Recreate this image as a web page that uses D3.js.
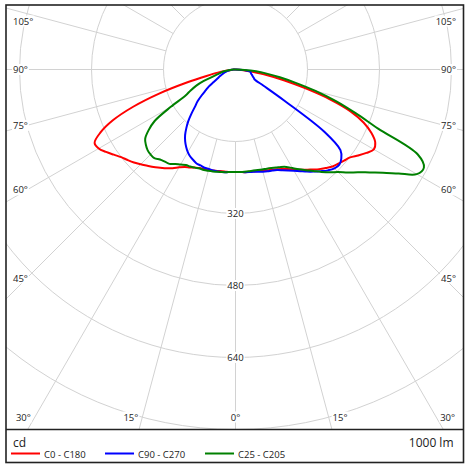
<!DOCTYPE html>
<html><head><meta charset="utf-8">
<script src="https://cdn.jsdelivr.net/npm/d3@7"></script>
<style>html,body{margin:0;padding:0;background:#fff}svg{display:block}text{font-family:"Open Sans",sans-serif;fill:#222}</style>
</head><body><svg id="c" width="465" height="465"></svg>
<script>
// gamma angles (deg from nadir)
const gamma = [0,2.5,5,7.5,10,12.5,15,17.5,20,22.5,25,27.5,30,32.5,35,37.5,40,42.5,45,47.5,50,52.5,55,57.5,60,62.5,65,67.5,70,72.5,75,77.5,80,82.5,85,87.5,90];
// intensities in cd (1000 lm)
const c180 = [228,228,228,228,229,230,231,232,233,236,240,244,251,260,268,275,283,290,298,306,313,320,330,341,351,353,331,295,242,178,112,66,40,18,10,4,0];
const c0   = [228,228,229,229,230,231,233,235,237,240,244,249,256,264,272,280,289,297,305,310,315,321,333,345,355,350,333,308,272,220,160,110,70,32,18,8,0];
const c270 = [228,228,229,230,230,230,229,229,227,226,222,218,212,204,195,184,170,155,138,122,110,95,81,70,56,47,41,36,32,28,25,21,17,13,9,4,0];
const c90  = [228,228,229,230,231,233,235,237,239,242,247,253,260,268,277,286,295,304,311,313,307,294,241,129,72,48,45,42,40,38,36,35,34,32,22,10,0];
const c205 = [228,228,229,230,231,232,233,234,234,236,238,239,244,249,256,258,261,267,267,265,260,253,236,213,166,125,110,95,76,54,42,34,29,20,12,5,0];
const c25  = [228,228,228,228,228,229,230,231,233,236,239,244,253,263,273,284,297,310,322,339,355,376,400,430,465,472,447,343,284,234,184,137,100,70,46,20,0];

const ringValues = [160,320,480,640,800,960,1120];
const ringLabels = [320,480,640];
const spokeAngles = [0,15,30,45,60,75,90,105,120,135,150,165,180];
const sideAngleLabels = [45,60,75,90,105];
const bottomAngleLabels = [0,15,30];
const seriesNames = ["C0 - C180","C90 - C270","C25 - C205"];
const seriesColors = ["#ff0000","#0000ff","#008000"];
const unitLabel = "cd";
const fluxLabel = "1000 lm";

const series = [
  {name:seriesNames[0], color:seriesColors[0], left:c180, right:c0},
  {name:seriesNames[1], color:seriesColors[1], left:c270, right:c90},
  {name:seriesNames[2], color:seriesColors[2], left:c205, right:c25}
];

const W=465,H=465;
const cx=235.5, cy=69.5;
const plot={x0:6,y0:5,x1:464,y1:429};
const r = d3.scaleLinear().domain([0,800]).range([0,360]);
const rad = d=>d*Math.PI/180;

const svg=d3.select("#c");
svg.append("rect").attr("width",W).attr("height",H).attr("fill","#fff");
svg.append("defs").append("clipPath").attr("id","clip").append("rect")
  .attr("x",plot.x0).attr("y",plot.y0).attr("width",plot.x1-plot.x0).attr("height",plot.y1-plot.y0);
const g=svg.append("g").attr("clip-path","url(#clip)");
const grid=g.append("g").attr("transform",`translate(${cx},${cy})`);
grid.selectAll("circle").data(ringValues).join("circle")
  .attr("r",d=>r(d)).attr("fill","none").attr("stroke","#d2d2d2").attr("stroke-width",1);
const spokes=[];
spokeAngles.forEach(a=>{spokes.push({a,s:1}); if(a>0&&a<180) spokes.push({a,s:-1});});
grid.selectAll("line").data(spokes).join("line")
  .attr("x1",d=>d.s*r(160)*Math.sin(rad(d.a))).attr("y1",d=>r(160)*Math.cos(rad(d.a)))
  .attr("x2",d=>d.s*r(1200)*Math.sin(rad(d.a))).attr("y2",d=>r(1200)*Math.cos(rad(d.a)))
  .attr("stroke","#d2d2d2").attr("stroke-width",1);

function label(parent,x,y,text,anchor,size){
  const gg=parent.append("g");
  const t=gg.append("text").attr("x",x).attr("y",y).attr("text-anchor",anchor)
    .attr("dominant-baseline","central").style("font-size",size+"px").text(text);
  const b=t.node().getBBox();
  gg.insert("rect","text").attr("x",b.x-1).attr("y",b.y+1).attr("width",b.width+2).attr("height",b.height-2).attr("fill","#fff");
}
const labels=svg.append("g");
ringLabels.forEach(v=>label(labels,cx,cy+r(v),String(v),"middle",9.5));
const xInL=27, xInR=444, yTop=21, yB=417;
sideAngleLabels.forEach(a=>{
  const y=Math.max(yTop, cy+(cx-xInL)/Math.tan(rad(a)));
  label(labels,13,y,a+"°","start",9.5);
  label(labels,456,y,a+"°","end",9.5);
});
bottomAngleLabels.forEach(a=>{
  const dx=(yB-cy)*Math.tan(rad(a));
  if(a===0){label(labels,cx,yB,a+"°","middle",9.5);}
  else{
    label(labels,cx-dx-4,yB,a+"°","end",9.5);
    label(labels,cx+dx+4,yB,a+"°","start",9.5);
  }
});

const line=d3.lineRadial().angle(d=>d[0]).radius(d=>r(d[1])).curve(d3.curveCatmullRom.alpha(0.5));
const curves=g.append("g").attr("transform",`translate(${cx},${cy})`);
series.forEach(s=>{
  const pts=[];
  for(let i=gamma.length-1;i>=0;i--) pts.push([Math.PI+rad(gamma[i]), s.left[i]]);
  for(let i=1;i<gamma.length;i++) pts.push([Math.PI-rad(gamma[i]), s.right[i]]);
  curves.append("path").attr("d",line(pts)).attr("fill","none").attr("stroke",s.color)
    .attr("stroke-width",2).attr("stroke-linejoin","round");
});

// frame
svg.append("rect").attr("x",6).attr("y",5).attr("width",457.5).attr("height",457.5)
  .attr("fill","none").attr("stroke","#222").attr("stroke-width",1.6);
svg.append("line").attr("x1",6).attr("x2",463.5).attr("y1",429.5).attr("y2",429.5)
  .attr("stroke","#222").attr("stroke-width",1.6);

svg.append("text").attr("x",13).attr("y",447).style("font-size","12px").text(unitLabel);
svg.append("text").attr("x",453.5).attr("y",447).attr("text-anchor","end").style("font-size","12px").text(fluxLabel);
const lg=svg.append("g");
const legX=[11,105,205];
series.forEach((s,i)=>{
  lg.append("line").attr("x1",legX[i]).attr("x2",legX[i]+29).attr("y1",453.5).attr("y2",453.5)
    .attr("stroke",s.color).attr("stroke-width",2);
  lg.append("text").attr("x",legX[i]+33).attr("y",454).attr("dominant-baseline","central")
    .style("font-size","9.5px").text(s.name);
});
</script></body></html>
